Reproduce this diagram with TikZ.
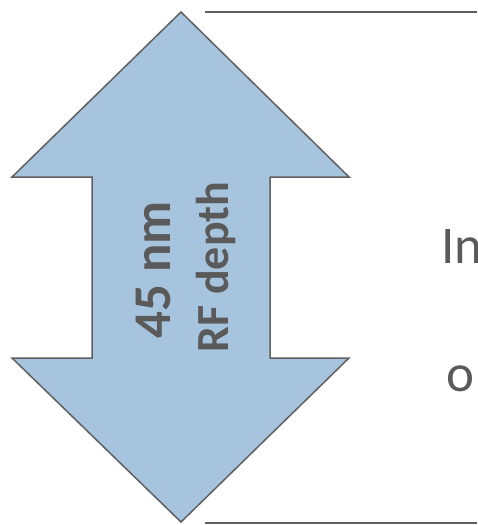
\documentclass[tikz,border=0pt]{standalone}
\usepackage{fontspec}
\setmainfont{Carlito}
\definecolor{arrowfill}{HTML}{A7C4DF}
\definecolor{greyline}{HTML}{606060}
\definecolor{greytext}{HTML}{5A5A5A}
\begin{document}
\begin{tikzpicture}[x=1pt,y=-1pt,
  rule/.style={draw=greyline,line width=2pt},
  vlabel/.style={text=greytext,font=\bfseries,rotate=90,inner sep=0pt,anchor=base},
  side/.style={text=greytext,inner sep=0pt,anchor=base west}]
\useasboundingbox (0,0) rectangle (477,525);
\draw[fill=arrowfill,draw=greyline,line width=1.5pt,line join=miter]
  (181,12) -- (349,177) -- (270,177) -- (270,358) -- (349,358) -- (181,522)
  -- (12,358) -- (92,358) -- (92,177) -- (12,177) -- cycle;
\node[vlabel,font=\bfseries\fontsize{53}{53}\selectfont] (a) at (170,270) {45 nm};
\node[vlabel,font=\bfseries\fontsize{46}{46}\selectfont] (b) at (228,267) {RF depth};
\coordinate (t1) at (205,12);
\coordinate (t2) at (477,12);
\coordinate (b1) at (205,523);
\coordinate (b2) at (477,523);
\draw[rule] (t1) -- (t2);
\draw[rule] (b1) -- (b2);
\node[side,font=\fontsize{53}{53}\selectfont] (in) at (441,263) {In};
\node[side,font=\fontsize{53}{53}\selectfont] (o) at (446,391) {o};
\end{tikzpicture}
\end{document}
